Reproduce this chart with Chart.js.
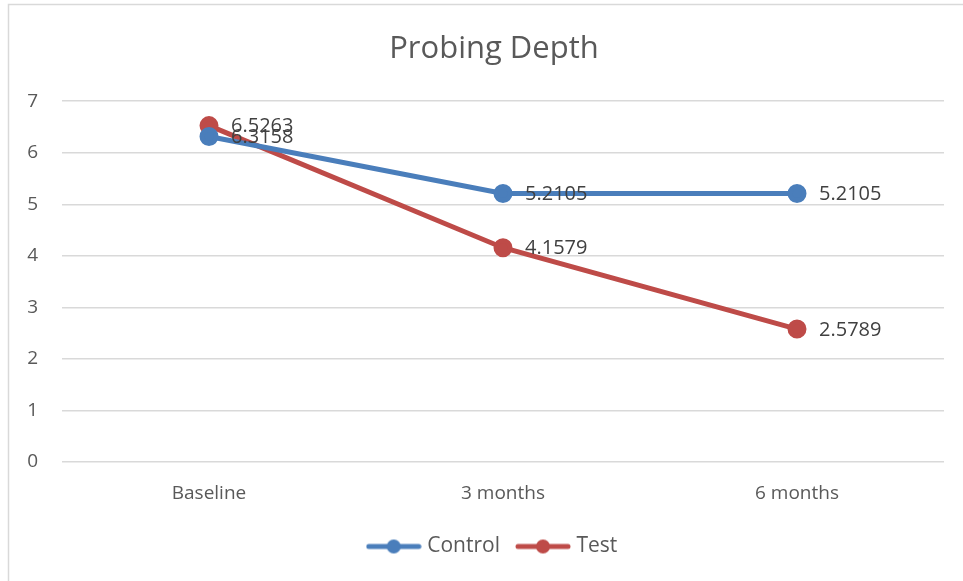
<!DOCTYPE html>
<html>
<head>
<meta charset="utf-8">
<script src="https://cdn.jsdelivr.net/npm/chart.js@4"></script>
<style>
  html, body { margin: 0; padding: 0; background: #fff; overflow: hidden; }
  #wrap { width: 997px; height: 581px; position: relative; }
</style>
</head>
<body>
<div id="wrap"><canvas id="chart"></canvas></div>
<script>
const categories = ["Baseline", "3 months", "6 months"];
const controlValues = [6.3158, 5.2105, 5.2105];
const testValues = [6.5263, 4.1579, 2.5789];
const yTicks = [0, 1, 2, 3, 4, 5, 6, 7];

const blue = "#4a7ebb";
const red = "#be4b48";
const textColor = "#595959";
const font = "'Open Sans', sans-serif";

// legend marker: short line with a dot in the middle
function legendMarker(color) {
  const c = document.createElement("canvas");
  c.width = 56; c.height = 16;
  const ctx = c.getContext("2d");
  ctx.strokeStyle = color;
  ctx.lineWidth = 5;
  ctx.lineCap = "round";
  ctx.beginPath();
  ctx.moveTo(3, 8); ctx.lineTo(53, 8);
  ctx.stroke();
  ctx.fillStyle = color;
  ctx.beginPath();
  ctx.arc(28, 8, 7, 0, Math.PI * 2);
  ctx.fill();
  return c;
}

const frame = {
  id: "frame",
  beforeDraw(chart) {
    const ctx = chart.ctx;
    ctx.save();
    ctx.strokeStyle = "#d9d9d9";
    ctx.lineWidth = 1.5;
    ctx.strokeRect(8.5, 4.5, 1000, 1000);
    ctx.restore();
  }
};

const valueLabels = {
  id: "valueLabels",
  afterDatasetsDraw(chart) {
    const ctx = chart.ctx;
    ctx.save();
    ctx.font = "20px " + font;
    ctx.fillStyle = "#404040";
    ctx.textAlign = "left";
    ctx.textBaseline = "middle";
    chart.data.datasets.forEach((ds, i) => {
      chart.getDatasetMeta(i).data.forEach((pt, j) => {
        ctx.fillText(ds.data[j].toFixed(4), pt.x + 22, pt.y + 1);
      });
    });
    ctx.restore();
  }
};

new Chart(document.getElementById("chart"), {
  type: "line",
  data: {
    labels: categories,
    datasets: [
      {
        label: "Control",
        data: controlValues,
        borderColor: blue,
        backgroundColor: blue,
        borderWidth: 5,
        pointStyle: "circle",
        pointRadius: 7,
        pointHoverRadius: 7
      },
      {
        label: "Test",
        data: testValues,
        borderColor: red,
        backgroundColor: red,
        borderWidth: 5,
        pointStyle: "circle",
        pointRadius: 7,
        pointHoverRadius: 7
      }
    ]
  },
  options: {
    responsive: true,
    maintainAspectRatio: false,
    animation: false,
    layout: { padding: { left: 10, right: 19, top: 10, bottom: 14 } },
    plugins: {
      title: {
        display: true,
        text: "Probing Depth",
        color: textColor,
        font: { family: font, size: 31, weight: "normal" },
        padding: { top: 21, bottom: 33 }
      },
      legend: {
        position: "bottom",
        labels: {
          color: textColor,
          font: { family: font, size: 21 },
          usePointStyle: true,
          pointStyleWidth: 46,
          padding: 20,
          generateLabels(chart) {
            return chart.data.datasets.map((ds, i) => ({
              text: ds.label,
              fillStyle: ds.borderColor,
              strokeStyle: ds.borderColor,
              fontColor: textColor,
              lineWidth: 0,
              pointStyle: legendMarker(ds.borderColor),
              datasetIndex: i,
              hidden: false
            }));
          }
        }
      },
      tooltip: { enabled: false }
    },
    scales: {
      x: {
        offset: true,
        grid: { display: false, drawTicks: false },
        border: { display: false },
        afterFit(scale) { scale.height = 54; },
        ticks: {
          color: textColor,
          font: { family: font, size: 19 },
          padding: 20
        }
      },
      y: {
        min: 0,
        max: 7,
        afterBuildTicks(scale) {
          scale.ticks = yTicks.map(v => ({ value: v }));
        },
        afterFit(scale) { scale.width = 52; },
        grid: { color: "#d9d9d9", lineWidth: 1.5, drawTicks: false },
        border: { display: false },
        ticks: {
          color: textColor,
          font: { family: font, size: 19 },
          padding: 24
        }
      },
      // empty spacer on the right so title and legend sit a bit right of centre
      spacer: {
        position: "right",
        grid: { display: false, drawTicks: false },
        border: { display: false },
        ticks: { display: false },
        afterFit(scale) { scale.width = 34; }
      }
    }
  },
  plugins: [frame, valueLabels]
});
</script>
</body>
</html>
